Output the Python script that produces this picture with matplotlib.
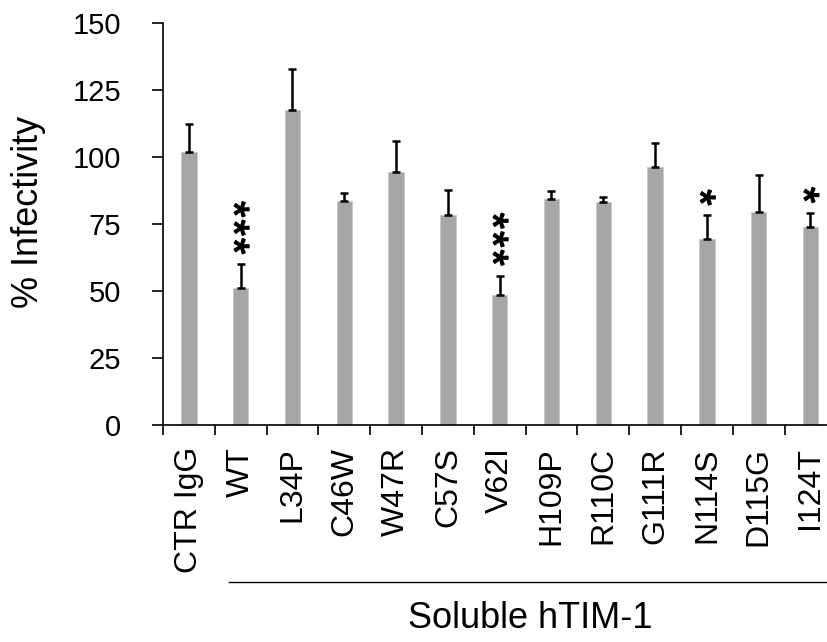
import matplotlib
matplotlib.use("Agg")
import matplotlib.pyplot as plt
import matplotlib.patheffects as pe
from matplotlib.lines import Line2D
from matplotlib.transforms import offset_copy

plt.rcParams['font.family'] = ['Liberation Sans', 'DejaVu Sans']

categories = ["CTR IgG", "WT", "L34P", "C46W", "W47R", "C57S", "V62I",
              "H109P", "R110C", "G111R", "N114S", "D115G", "I124T"]
values = [102.0, 51.1, 117.4, 83.6, 94.5, 78.4, 48.6, 84.4, 83.2, 96.2, 69.3, 79.6, 74.0]
errors = [10.3, 8.9, 15.4, 2.8, 11.5, 9.4, 7.1, 3.0, 1.9, 9.1, 8.9, 13.6, 5.1]
significance = ["", "***", "", "", "", "", "***", "", "", "", "*", "", "*"]
yticks = [0, 25, 50, 75, 100, 125, 150]

W, H = 828, 642
fig = plt.figure(figsize=(W / 100, H / 100), dpi=100)
ax = fig.add_axes([163 / W, 1 - 425 / H, (W - 163) / W, (425 - 23) / H])

x = list(range(len(categories)))
ax.bar(x, values, width=0.3, color="#A6A6A6", edgecolor="#C8C8C8", linewidth=0.6, zorder=2)
ax.errorbar(x, values, yerr=[[0] * len(errors), errors], fmt="none", ecolor="black",
            elinewidth=1.8, capsize=3.0, capthick=1.8, zorder=3)

for xi, v, e, s in zip(x, values, errors, significance):
    for k, ch in enumerate(s):
        tr = offset_copy(ax.transData, fig=fig, x=-6.8, y=13.0 + 13.3 * k, units="points")
        ax.text(xi, v + e, ch, rotation=270, ha="center", va="center",
                fontsize=30, color="black", transform=tr,
                path_effects=[pe.withStroke(linewidth=1.1, foreground="black")])

ax.set_ylim(0, 150)
ax.set_xlim(-0.5, -0.5 + (W - 163) / 51.8)
ax.set_yticks(yticks)
ax.set_yticklabels([str(t) for t in yticks], fontsize=21)
ax.tick_params(axis="y", direction="out", length=8, width=1.2, pad=22)

ax.set_xticks(x)
ax.set_xticklabels(categories, rotation=90, fontsize=23, va="top", ha="center")
ax.tick_params(axis="x", which="major", length=0, pad=16)
ax.set_xticks([i - 0.5 for i in x], minor=True)
ax.tick_params(axis="x", which="minor", direction="out", length=7, width=1.2)

for sp in ["top", "right"]:
    ax.spines[sp].set_visible(False)
for sp in ["left", "bottom"]:
    ax.spines[sp].set_linewidth(1.2)

fig.text(29 / W, 1 - 212 / H, "% Infectivity", rotation=90, ha="center", va="center", fontsize=26)

fig.add_artist(Line2D([229 / W, 1.0], [1 - 582 / H, 1 - 582 / H], transform=fig.transFigure,
                      color="black", linewidth=1.0))
fig.text(530 / W, 1 - 618 / H, "Soluble hTIM-1", ha="center", va="center", fontsize=26)

fig.savefig("out.png", dpi=100)
